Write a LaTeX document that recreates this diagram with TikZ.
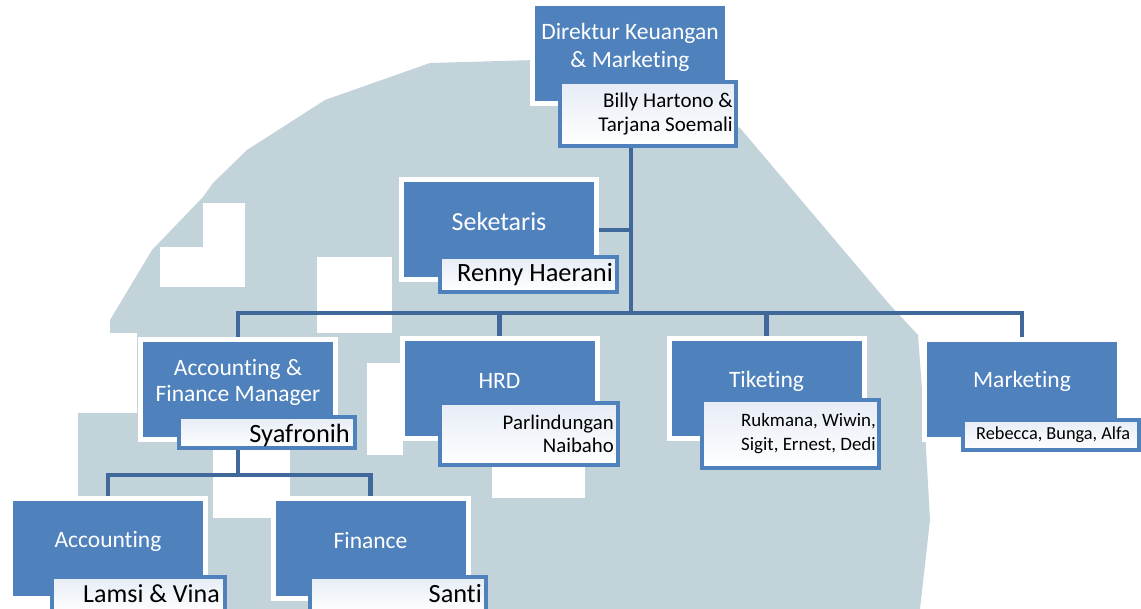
\documentclass[tikz,border=0pt]{standalone}
\usepackage{fontspec}
\setmainfont{Carlito}[Ligatures=NoCommon]
\definecolor{boxblue}{HTML}{4F81BD}
\definecolor{connblue}{HTML}{41689B}
\definecolor{subtop}{HTML}{E6ECF6}
\definecolor{blobc}{HTML}{C2D3DA}
\pgfdeclarelayer{blob}
\pgfdeclarelayer{bg}
\pgfsetlayers{blob,bg,main}
\begin{document}
\begin{tikzpicture}[x=1pt,y=-1pt,
  mainbox/.style={fill=boxblue, draw=white, line width=5pt, minimum width=195pt, minimum height=100pt, inner sep=0pt},
  subbox/.style={draw=boxblue, line width=4pt, top color=subtop, bottom color=white, inner sep=0pt},
  lbl/.style={text=white, font=\fontsize{23.5}{27}\selectfont, align=center, inner sep=0pt},
  nm/.style={text=black, inner sep=0pt},
  conn/.style={draw=connblue, line width=4.5pt}]
\useasboundingbox (0,0) rectangle (1141,609);

% background watermark
\begin{pgfonlayer}{blob}
\fill[blobc] (430,63) -- (536,60) -- (740,128) -- (890,305) -- (918,335) -- (925,430) -- (930,520) -- (920,609)
  -- (78,609) -- (78,413) -- (137,413) -- (137,333) -- (110,333) -- (110,320) -- (152,250)
  -- (203,197) -- (213,183) -- (247,150) -- (325,100) -- cycle;
\fill[white] (203,203) rectangle (245,287);
\fill[white] (160,247) rectangle (245,287);
\fill[white] (317,257) rectangle (392,333);
\fill[white] (367,363) rectangle (403,455);
\fill[white] (213,443) rectangle (290,518);
\fill[white] (492,465) rectangle (585,498);
\end{pgfonlayer}

% top
\node[mainbox] (dir) at (630,54) {};
\node[lbl, font=\fontsize{23.5}{28}\selectfont] (dirl) at (630,47) {Direktur Keuangan\\\& Marketing};
\node[subbox, minimum width=176pt, minimum height=64pt] (dirsub) at (648,114) {};
\node[nm, anchor=east, align=right, font=\fontsize{21}{24}\selectfont] (dirn) at ([xshift=-5pt]dirsub.east) {Billy Hartono \&\\Tarjana Soemali};

% secretary
\node[mainbox] (sek) at (499,230) {};
\node[lbl, font=\fontsize{26}{30}\selectfont] (sekl) at (499,222) {Seketaris};
\node[subbox, minimum width=177pt, minimum height=35pt] (seksub) at (528.5,274.5) {};
\node[nm, anchor=east, font=\fontsize{26.4}{30}\selectfont] (sekn) at ([xshift=-6pt]seksub.east) {Renny Haerani};

% second row
\node[mainbox] (afm) at (238,389.5) {};
\node[lbl, font=\fontsize{23.5}{26}\selectfont] (afml) at (238,382) {Accounting \&\\Finance Manager};
\node[subbox, minimum width=176pt, minimum height=31pt] (afmsub) at (267,432.5) {};
\node[nm, anchor=east, font=\fontsize{26.4}{30}\selectfont] (afmn) at ([xshift=-7pt,yshift=-3pt]afmsub.east) {Syafronih};

\node[mainbox] (hrd) at (499.5,389) {};
\node[lbl] (hrdl) at (499.5,381) {HRD};
\node[subbox, minimum width=178pt, minimum height=62pt] (hrdsub) at (529,434) {};
\node[nm, anchor=east, align=right, font=\fontsize{20.8}{23}\selectfont] (hrdn) at ([xshift=-6pt]hrdsub.east) {Parlindungan\\Naibaho};

\node[mainbox] (tik) at (766.5,389) {};
\node[lbl] (tikl) at (766.5,381) {Tiketing};
\node[subbox, minimum width=177pt, minimum height=68pt] (tiksub) at (790.5,434) {};
\begin{scope}
\clip ([xshift=2pt,yshift=-2pt]tiksub.north west) rectangle ([xshift=-2pt,yshift=2pt]tiksub.south east);
\node[nm, anchor=west, align=left, font=\fontsize{18.9}{24}\selectfont] (tikn) at ([xshift=41pt]tiksub.west) {Rukmana, Wiwin,\\Sigit, Ernest, Dedi};
\end{scope}

\node[mainbox] (mkt) at (1022,389.5) {};
\node[lbl] (mktl) at (1022,381) {Marketing};
\node[subbox, minimum width=176pt, minimum height=30pt] (mktsub) at (1051,435) {};
\node[nm, anchor=west, font=\fontsize{18.3}{22}\selectfont] (mktn) at ([xshift=15pt]mktsub.west) {Rebecca, Bunga, Alfa};

% third row
\node[mainbox] (acc) at (108,548.5) {};
\node[lbl] (accl) at (108,541) {Accounting};
\node[subbox, minimum width=173pt, minimum height=36pt] (accsub) at (138.5,595) {};
\node[nm, anchor=east, font=\fontsize{26}{30}\selectfont] (accn) at ([xshift=-7pt,yshift=1pt]accsub.east) {Lamsi \& Vina};

\node[mainbox] (fin) at (370.5,548) {};
\node[lbl] (finl) at (370.5,541) {Finance};
\node[subbox, minimum width=176pt, minimum height=36pt] (finsub) at (398,595) {};
\node[nm, anchor=east, font=\fontsize{26.3}{30}\selectfont] (finn) at ([xshift=-6pt,yshift=1pt]finsub.east) {Santi};

% connectors
\coordinate (bus) at (631,313);
\coordinate (sbus) at (238,475);
\begin{pgfonlayer}{bg}
\draw[conn] (dirsub.south -| bus) -- (bus);
\draw[conn] (sek.east) -- (sek.east -| bus);
\draw[conn] (afm.north) |- (bus) -| (mkt.north);
\draw[conn] (hrd.north) -- (hrd.north |- bus);
\draw[conn] (tik.north) -- (tik.north |- bus);
\draw[conn] (afmsub.south -| sbus) -- (sbus);
\draw[conn] (acc.north) |- (sbus) -| (fin.north);
\end{pgfonlayer}
\end{tikzpicture}
\end{document}
